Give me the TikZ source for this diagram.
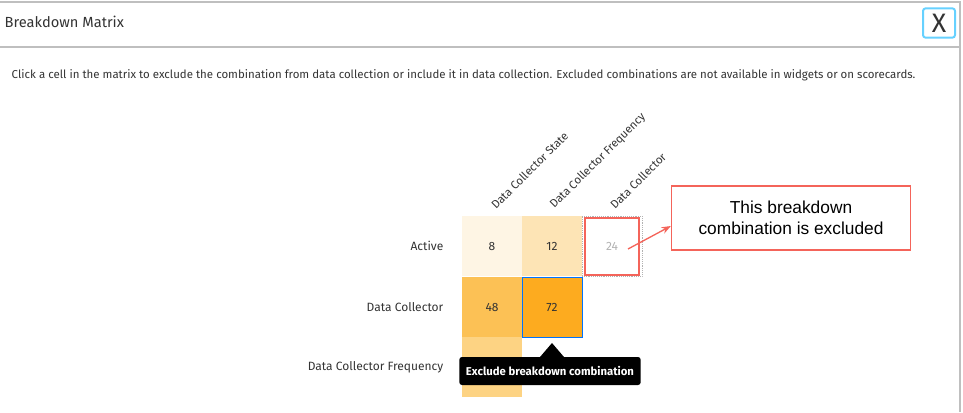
\documentclass[tikz,border=0pt]{standalone}
\usepackage{fontspec}
\setmainfont{Fira Sans}
\newfontfamily\calloutfont{Liberation Sans}
\usetikzlibrary{arrows.meta}
\definecolor{cellA}{HTML}{FEF5E4}
\definecolor{cellB}{HTML}{FDE4B5}
\definecolor{cellC}{HTML}{FCC155}
\definecolor{cellD}{HTML}{FDAB1F}
\definecolor{cellE}{HTML}{FDD383}
\definecolor{calloutred}{HTML}{F4645A}
\definecolor{textgray}{HTML}{333333}
\tikzset{
  cell/.style={minimum width=45pt, minimum height=45pt, inner sep=0pt, font=\fontsize{9}{10}\selectfont, text=textgray},
  rowlabel/.style={anchor=east, font=\fontsize{9}{10}\selectfont, text=textgray},
  collabel/.style={anchor=west, rotate=45, font=\fontsize{8.6}{9}\selectfont, text=textgray, inner sep=0pt}
}
\begin{document}
\begin{tikzpicture}[x=0.75pt, y=-0.75pt]
  \useasboundingbox (0,0) rectangle (963,412);
  % 枠線
  \draw[gray!50, line width=1.5pt] (0,2) -- (960,2) -- (960,412);
  \draw[gray!50, line width=1.5pt] (0,47) -- (960,47);
  \node[anchor=west, font=\fontsize{11}{13}\selectfont, text=textgray] (title) at (0,22) {Breakdown Matrix};
  \node[draw=blue!30!cyan!60, line width=1.5pt, rounded corners=2pt, minimum width=24pt, minimum height=22pt, inner sep=0pt, font=\fontsize{20}{20}\selectfont, text=textgray] (close) at (939,23) {X};
  \node[anchor=west, font=\fontsize{8.6}{10}\selectfont, text=textgray] (intro) at (7,75)
    {Click a cell in the matrix to exclude the combination from data collection or include it in data collection. Excluded combinations are not available in widgets or on scorecards.};

  % 列ラベル
  \node[collabel] (c1) at (493,207) {Data Collector State};
  \node[collabel] (c2) at (552,207) {Data Collector Frequency};
  \node[collabel] (c3) at (612,207) {Data Collector};

  % 行ラベル
  \node[rowlabel] (r1) at (448,246) {Active};
  \node[rowlabel] (r2) at (448,307) {Data Collector};
  \node[rowlabel] (r3) at (448,367) {Data Collector Frequency};

  % セル
  \node[cell, fill=cellA] (a11) at (492,246) {8};
  \node[cell, fill=cellB] (a12) at (552,246) {12};
  \node[cell, draw=gray!60, densely dotted, text=gray!60] (a13) at (612,246) {24};
  \node[cell, fill=cellC] (a21) at (492,307) {48};
  \node[cell, fill=cellD, draw=blue!55!cyan] (a22) at (552,307) {72};
  \node[cell, fill=cellE] (a31) at (492,367) {};
  \draw[calloutred, line width=1.5pt] (585,218) rectangle (639,275);

  % ツールチップ
  \fill[black] (540,357) -- (552,343) -- (564,357) -- cycle;
  \node[fill=black, rounded corners=2pt, text=white, minimum width=136pt, minimum height=21pt, font=\fontsize{8.5}{9}\selectfont\bfseries] (tip) at (550,371) {Exclude breakdown combination};

  % 吹き出し
  \node[draw=calloutred, line width=1.2pt, minimum width=179pt, minimum height=48pt, align=center, font=\calloutfont\fontsize{13}{16}\selectfont] (callout) at (791,218) {This breakdown\\combination is excluded};
  \draw[calloutred, line width=1pt, -{Stealth[length=7pt]}] (628,249) -- (callout.west |- 0,226);
\end{tikzpicture}
\end{document}
